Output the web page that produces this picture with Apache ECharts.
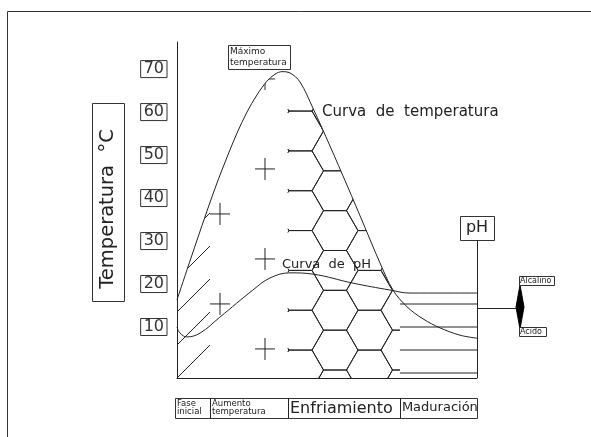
<!DOCTYPE html>
<html><head><meta charset="utf-8">
<script src="https://cdn.jsdelivr.net/npm/echarts@6/dist/echarts.min.js"></script>
<style>html,body{margin:0;padding:0;background:#fff}#c{width:591px;height:437px}</style>
</head><body><div id="c"></div>
<script>
// ---- data ----
const tempX = [0,3.33,6.67,10,13.33,16.67,20,23.33,26.67,30,32.67,35,37.67,41,45.33,51,56.67,62.33,67.67,72,76.67,82,87.67,94.33,100];
const tempY = [16.3,23.3,30.2,37.0,43.5,49.5,55.1,60.0,64.0,67.2,68.8,69.4,69.1,67.0,60.9,52.1,43.0,33.7,24.9,18.6,14.7,11.9,9.8,8.1,7.4];
const phX = [0,1,3.3,7.7,14.3,25.3,31,37.7,45.3,58.7,71,77.7,87.7,100];
const phY = [10.0,8.6,7.7,8.6,12.3,18.6,21.4,22.6,22.3,20.2,18.6,17.9,17.9,17.9];
const yTicks = [10,20,30,40,50,60,70];
const phaseNames = ['Fase\ninicial','Aumento\ntemperatura','Enfriamiento','Maduración'];
const phaseBounds = [0,11,37,74.3,100];
const crossAnchor = [29.33, 4.9];
const hexAnchor = [52.67, 0];

const INK = '#222';
const FONT = 'DejaVu Sans';
const chart = echarts.init(document.getElementById('c'), null, {renderer:'canvas'});

function clipSeg(x1,y1,x2,y2,L,R,T,B){
  let t0=0,t1=1; const dx=x2-x1, dy=y2-y1;
  const p=[-dx,dx,-dy,dy], q=[x1-L,R-x1,y1-T,B-y1];
  for(let i=0;i<4;i++){
    if(p[i]===0){ if(q[i]<0) return null; }
    else { const r=q[i]/p[i];
      if(p[i]<0){ if(r>t1) return null; if(r>t0) t0=r; }
      else { if(r<t0) return null; if(r<t1) t1=r; } }
  }
  return [x1+t0*dx, y1+t0*dy, x1+t1*dx, y1+t1*dy];
}
function seg(a){ return {type:'line', shape:{x1:a[0],y1:a[1],x2:a[2],y2:a[3]}, style:{stroke:INK, lineWidth:1}}; }

function hatchItem(params, api){
  const cs=params.coordSys, T=cs.y, B=cs.y+cs.height;
  const L=api.coord([phaseBounds[0],0])[0], R=api.coord([phaseBounds[1],0])[0];
  const ch=[], step=33, w=R-L;
  for(let k=0;k<14;k++){ const y0=B-step*k; const s=clipSeg(L,y0,R,y0-w,L,R,T,B); if(s) ch.push(seg(s)); }
  return {type:'group', children:ch};
}
function crossItem(params, api){
  const cs=params.coordSys, T=cs.y, B=cs.y+cs.height;
  const L=api.coord([phaseBounds[1],0])[0], R=api.coord([phaseBounds[2],0])[0];
  const a=api.coord(crossAnchor); const ch=[];
  for(let i=-3;i<=3;i++){
    const cx=a[0]+45*i; if(cx<L||cx>R) continue;
    for(let k=-1;k<8;k++){
      const cy=a[1]-90*k-(Math.abs(i)%2?45:0);
      if(cy<T||cy>B) continue;
      [[cx-10,cy,cx+10,cy],[cx,cy-11,cx,cy+11]].forEach(s=>{const c=clipSeg(s[0],s[1],s[2],s[3],L,R,T,B); if(c) ch.push(seg(c));});
    }
  }
  return {type:'group', children:ch};
}
function hexItem(params, api){
  const cs=params.coordSys, T=cs.y, B=cs.y+cs.height;
  const L=api.coord([phaseBounds[2],0])[0], R=api.coord([phaseBounds[3],0])[0];
  const a=api.coord(hexAnchor); const s=23, hh=s*Math.sqrt(3)/2; const ch=[];
  for(let j=-3;j<=4;j++){
    const cx=a[0]+1.5*s*j;
    for(let k=-2;k<12;k++){
      const cy=a[1]-hh-2*hh*k+(Math.abs(j)%2?hh:0);
      const v=[[cx-s,cy],[cx-s/2,cy-hh],[cx+s/2,cy-hh],[cx+s,cy],[cx+s/2,cy+hh],[cx-s/2,cy+hh]];
      for(let e=0;e<6;e++){
        const p=v[e], q=v[(e+1)%6];
        const c=clipSeg(p[0],p[1],q[0],q[1],L,R,T,B);
        if(c){ ch.push(seg(c));
          if(p[1]===q[1] && Math.min(p[0],q[0])<L && Math.max(p[0],q[0])>L) ch.push(seg([L,p[1]-2,L,p[1]+2]));
        }
      }
    }
  }
  return {type:'group', children:ch};
}
function madItem(params, api){
  const cs=params.coordSys, B=cs.y+cs.height;
  const L=api.coord([phaseBounds[3],0])[0], R=api.coord([phaseBounds[4],0])[0];
  const ch=[];
  for(let k=0;k<4;k++){ const y=B-5-23*k; ch.push(seg([L,y,R,y])); }
  return {type:'group', children:ch};
}

const zip=(xs,ys)=>xs.map((x,i)=>[x,ys[i]]);

chart.setOption({
  animation:false,
  backgroundColor:'#fff',
  grid:{left:177, right:114, top:42, bottom:59},
  xAxis:{type:'value', min:0, max:100, z:10,
    axisLine:{show:true, onZero:false, lineStyle:{color:INK, width:1}},
    axisTick:{show:false}, axisLabel:{show:false}, splitLine:{show:false}},
  yAxis:{type:'value', min:-1.86, max:76.3, z:10,
    axisLine:{show:true, lineStyle:{color:INK, width:1}},
    axisTick:{show:false}, splitLine:{show:false},
    axisLabel:{customValues:yTicks, margin:10, fontFamily:FONT, fontSize:16, color:'#333',
      borderColor:'#333', borderWidth:1, padding:[1,3,0,3], lineHeight:16}},
  series:[
    {type:'custom', z:1, silent:true, renderItem:hatchItem, data:[[0,0]]},
    {type:'custom', z:1, silent:true, renderItem:crossItem, data:[[0,0]]},
    {type:'custom', z:1, silent:true, renderItem:hexItem, data:[[0,0]]},
    {type:'line', name:'Curva de temperatura', z:3, data:zip(tempX,tempY), smooth:0.35, symbol:'none',
      lineStyle:{color:INK, width:1}, areaStyle:{color:'#fff', opacity:1, origin:'end'}},
    {type:'custom', z:4, silent:true, renderItem:madItem, data:[[0,0]]},
    {type:'line', name:'Curva de pH', z:5, data:zip(phX,phY), smooth:0.4, symbol:'none',
      lineStyle:{color:INK, width:1}}
  ]
});

const px = (x,y)=>chart.convertToPixel({gridIndex:0},[x,y]);
const yBot = px(0,-1.86)[1];
const xs = phaseBounds.map(b=>px(b,0)[0]);
const g = [];
const box=(x,y,w,h)=>({type:'rect', z:100, shape:{x:x+0.5,y:y+0.5,width:w,height:h}, style:{fill:'#fff', stroke:'#333', lineWidth:1}});
const line=(x1,y1,x2,y2)=>({type:'line', z:100, shape:{x1,y1,x2,y2}, style:{stroke:INK, lineWidth:1}});
const txt=(x,y,t,fs,align,extra)=>Object.assign({type:'text', z:101, x, y, style:{text:t, fontFamily:FONT, fontSize:fs, fill:'#222', align:align||'left', verticalAlign:'middle'}}, extra||{});

// outer frame
g.push({type:'rect', z:0, shape:{x:7.5,y:11.5,width:700,height:600}, style:{fill:null, stroke:'#333', lineWidth:1}});
// axis title box
g.push(box(92,103,32,198));
g.push(txt(108,209,'Temperatura  °C',19.5,'center',{rotation:Math.PI/2}));
// Maximo box
g.push(box(228,45,62,24));
g.push({type:'text', z:101, x:230, y:57, style:{text:'Máximo\ntemperatura', fontFamily:FONT, fontSize:9, lineHeight:11, fill:'#222', align:'left', verticalAlign:'middle'}});
// curve labels
g.push(txt(322,112,'Curva  de  temperatura',15,'left'));
g.push(txt(282,265,'Curva  de  pH',13,'left'));
// pH box and scale
const xR = xs[4];
g.push(line(xR+0.5,240,xR+0.5,yBot));
g.push(box(460,216,34,24));
g.push(txt(477,228,'pH',16,'center'));
g.push(line(xR,308.5,516,308.5));
g.push({type:'polygon', z:100, shape:{points:[[520,285],[524,307],[520,329],[516,307]]}, style:{fill:'#000', stroke:'#000'}});
g.push(box(519,276,35,9));
g.push(txt(520,281,'Alcalino',8,'left'));
g.push(box(519,327,27,9));
g.push(txt(520,332,'Acido',8,'left'));
// phase table
const tL = xs[0]-2, tT = 398, tH = 20;
g.push(box(tL,tT,xs[4]-tL,tH));
for(let i=1;i<4;i++) g.push(line(Math.round(xs[i])+0.5,tT,Math.round(xs[i])+0.5,tT+tH));
g.push({type:'text', z:101, x:tL+2, y:tT+10, style:{text:phaseNames[0], fontFamily:FONT, fontSize:8.5, lineHeight:8.5, fill:'#222', align:'left', verticalAlign:'middle'}});
g.push({type:'text', z:101, x:xs[1]+2, y:tT+10, style:{text:phaseNames[1], fontFamily:FONT, fontSize:8.5, lineHeight:8.5, fill:'#222', align:'left', verticalAlign:'middle'}});
g.push(txt(xs[2]+2,tT+11,phaseNames[2],16,'left'));
g.push(txt(xs[3]+2,tT+10,phaseNames[3],13,'left'));
chart.setOption({graphic:g});
</script></body></html>
